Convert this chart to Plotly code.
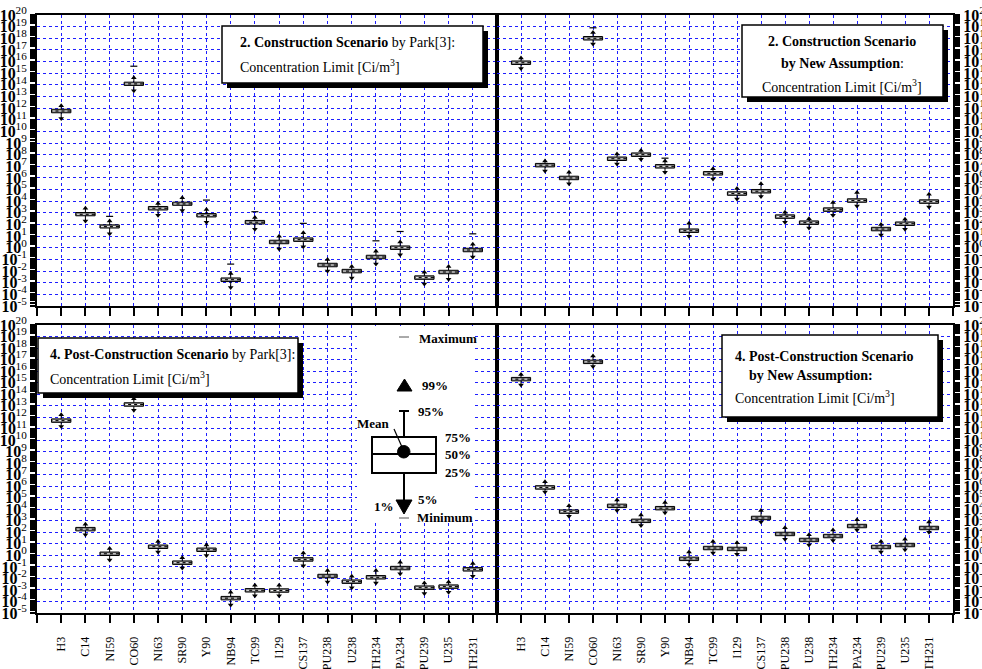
import plotly.graph_objects as go

# ---------------------------------------------------------------- data
CATS = ["H3", "C14", "NI59", "CO60", "NI63", "SR90", "Y90", "NB94", "TC99",
        "I129", "CS137", "PU238", "U238", "TH234", "PA234", "PU239", "U235", "TH231"]

# all statistics are log10 of the concentration limit [Ci/m3]
# 2. Construction scenario, Park[3]
TL_P01 = [11.1, 2.3, 1.2, 13.5, 2.8, 3.2, 2.2, -3.4, 1.6, -0.1, 0.1, -2.0, -2.6, -1.4, -0.6, -3.1, -2.7, -0.8]
TL_P25 = [11.6, 2.75, 1.7, 13.95, 3.25, 3.65, 2.65, -2.9, 2.05, 0.35, 0.55, -1.63, -2.15, -0.94, -0.14, -2.71, -2.23, -0.34]
TL_P50 = [11.75, 2.88, 1.82, 14.08, 3.4, 3.77, 2.79, -2.74, 2.2, 0.5, 0.7, -1.48, -2.0, -0.79, 0.01, -2.56, -2.08, -0.19]
TL_P75 = [11.9, 3.03, 1.97, 14.23, 3.55, 3.92, 2.94, -2.59, 2.35, 0.65, 0.85, -1.33, -1.85, -0.64, 0.16, -2.41, -1.93, -0.04]
TL_P99 = [12.2, 3.4, 2.3, 14.6, 3.8, 4.3, 3.3, -2.2, 2.6, 1.0, 1.3, -1.0, -1.6, -0.3, 0.5, -2.1, -1.6, 0.3]
TL_MAX = [None, None, 2.7, 15.6, None, None, 4.1, -1.4, 3.1, None, 2.1, None, None, 0.6, 1.4, None, None, 1.2]

# 2. Construction scenario, new assumption
TR_P01 = [15.4, 6.6, 5.5, 17.5, 7.2, 7.6, 6.5, 1.0, 5.9, 4.2, 4.4, 2.2, 1.7, 2.8, 3.6, 1.1, 1.6, 3.5]
TR_P25 = [15.75, 6.95, 5.85, 17.85, 7.5, 7.85, 6.85, 1.32, 6.25, 4.51, 4.71, 2.53, 2.01, 3.13, 3.91, 1.46, 1.92, 3.82]
TR_P50 = [15.9, 7.1, 6.0, 18.0, 7.65, 8.0, 7.0, 1.47, 6.4, 4.66, 4.86, 2.68, 2.16, 3.28, 4.06, 1.61, 2.07, 3.97]
TR_P75 = [16.05, 7.25, 6.15, 18.15, 7.8, 8.15, 7.15, 1.62, 6.55, 4.81, 5.01, 2.83, 2.31, 3.43, 4.21, 1.76, 2.22, 4.12]
TR_P99 = [16.3, 7.45, 6.5, 18.5, 8.05, 8.35, 7.45, 2.1, 6.8, 5.1, 5.5, 3.05, 2.5, 3.9, 4.75, 2.0, 2.45, 4.6]
TR_MAX = [None, None, None, 18.9, None, None, 7.7, None, None, None, None, None, None, None, None, None, None, None]

# 4. Post-construction scenario, Park[3]
BL_P01 = [11.2, 1.8, -0.4, 12.6, 0.3, -1.1, 0.0, -4.3, -3.5, -3.5, -0.9, -2.3, -2.8, -2.4, -1.6, -3.3, -3.2, -1.8]
BL_P25 = [11.55, 2.13, -0.01, 12.95, 0.6, -0.78, 0.34, -3.86, -3.18, -3.2, -0.5, -1.94, -2.43, -2.05, -1.25, -2.95, -2.86, -1.36]
BL_P50 = [11.7, 2.28, 0.14, 13.1, 0.75, -0.63, 0.49, -3.71, -3.03, -3.05, -0.35, -1.79, -2.28, -1.9, -1.1, -2.8, -2.71, -1.21]
BL_P75 = [11.85, 2.43, 0.29, 13.25, 0.9, -0.48, 0.64, -3.56, -2.88, -2.9, -0.2, -1.64, -2.13, -1.75, -0.95, -2.65, -2.56, -1.06]
BL_P99 = [12.2, 2.7, 0.6, 13.6, 1.2, -0.2, 0.9, -3.2, -2.6, -2.6, 0.2, -1.3, -1.8, -1.3, -0.6, -2.4, -2.3, -0.7]
BL_MAX = [None] * 18

# 4. Post-construction scenario, new assumption
BR_P01 = [14.8, 5.5, 3.4, 16.4, 3.9, 2.6, 3.7, -0.8, 0.2, 0.1, 2.9, 1.4, 0.9, 1.3, 2.2, 0.3, 0.5, 2.0]
BR_P25 = [15.15, 5.75, 3.65, 16.65, 4.15, 2.85, 3.95, -0.45, 0.49, 0.41, 3.1, 1.71, 1.19, 1.53, 2.4, 0.58, 0.75, 2.23]
BR_P50 = [15.3, 5.9, 3.8, 16.8, 4.3, 3.0, 4.1, -0.3, 0.64, 0.56, 3.25, 1.86, 1.34, 1.68, 2.55, 0.73, 0.9, 2.38]
BR_P75 = [15.45, 6.05, 3.95, 16.95, 4.45, 3.15, 4.25, -0.15, 0.79, 0.71, 3.4, 2.01, 1.49, 1.83, 2.7, 0.88, 1.05, 2.53]
BR_P99 = [15.7, 6.4, 4.3, 17.3, 4.8, 3.5, 4.6, 0.3, 1.2, 1.1, 3.9, 2.4, 1.8, 2.2, 3.1, 1.2, 1.4, 2.9]
BR_MAX = [None] * 18

EXPONENTS = list(range(-5, 21))

# ---------------------------------------------------------------- layout geometry
FIG_W, FIG_H = 982, 669
M_L, M_R, M_T, M_B = 37, 29, 15, 56
PW = FIG_W - M_L - M_R
PH = FIG_H - M_T - M_B


def px(x):
    return (x - M_L) / PW


def py(y):
    return (FIG_H - M_B - y) / PH


X_LEFT = [0, px(497)]
X_RIGHT = [px(497), 1]
Y_TOP = [py(306), 1]
Y_BOT = [0, py(325)]

SERIF = "Liberation Serif"
GRID = "rgb(30,30,255)"
NBSP = "\u00a0"

fig = go.Figure()

panels = [
    ("x", "y", TL_P01, TL_P25, TL_P50, TL_P75, TL_P99, TL_MAX),
    ("x2", "y2", TR_P01, TR_P25, TR_P50, TR_P75, TR_P99, TR_MAX),
    ("x3", "y3", BL_P01, BL_P25, BL_P50, BL_P75, BL_P99, BL_MAX),
    ("x4", "y4", BR_P01, BR_P25, BR_P50, BR_P75, BR_P99, BR_MAX),
]

pos = list(range(1, len(CATS) + 1))


def lin(v):
    return [None if e is None else 10.0 ** e for e in v]


for xa, ya, p01, p25, p50, p75, p99, pmax in panels:
    fig.add_trace(go.Box(
        x=pos, q1=lin(p25), median=lin(p50), q3=lin(p75),
        lowerfence=lin(p01), upperfence=lin(p99),
        width=0.8, whiskerwidth=0, boxpoints=False,
        fillcolor="#8c8c8c", line=dict(color="black", width=1),
        xaxis=xa, yaxis=ya, showlegend=False, hoverinfo="skip"))
    # dotted median stripe
    mx, my = [], []
    for i, m in zip(pos, p50):
        mx += [i - 0.36, i + 0.36, None]
        my += [10.0 ** m, 10.0 ** m, None]
    fig.add_trace(go.Scatter(x=mx, y=my, mode="lines",
                             line=dict(color="white", width=1, dash="dot"),
                             xaxis=xa, yaxis=ya, showlegend=False, hoverinfo="skip"))
    # 99 % and 1 % markers
    fig.add_trace(go.Scatter(x=pos, y=lin(p99), mode="markers",
                             marker=dict(symbol="triangle-up", size=5, color="black"),
                             xaxis=xa, yaxis=ya, showlegend=False, hoverinfo="skip"))
    fig.add_trace(go.Scatter(x=pos, y=lin(p01), mode="markers",
                             marker=dict(symbol="triangle-down", size=5, color="black"),
                             xaxis=xa, yaxis=ya, showlegend=False, hoverinfo="skip"))
    # maximum dashes
    kx = [i for i, v in zip(pos, pmax) if v is not None]
    ky = [10.0 ** v for v in pmax if v is not None]
    if kx:
        fig.add_trace(go.Scatter(x=kx, y=ky, mode="markers",
                                 marker=dict(symbol="line-ew", size=5,
                                             line=dict(color="black", width=1.2)),
                                 xaxis=xa, yaxis=ya, showlegend=False, hoverinfo="skip"))


def xaxis(domain, anchor, labels):
    return dict(domain=domain, anchor=anchor, range=[0, len(CATS) + 1],
                tickmode="array", tickvals=list(range(0, len(CATS) + 2)),
                ticktext=[""] + [c + NBSP * 3 for c in CATS] + [""],
                showticklabels=labels, tickangle=-90,
                tickfont=dict(family=SERIF, size=12, color="black"),
                ticks="outside", ticklen=8, tickwidth=1.5, tickcolor="black",
                showline=True, linewidth=2, linecolor="black", mirror=True,
                showgrid=True, gridcolor=GRID, gridwidth=1, griddash="dot",
                zeroline=False, fixedrange=True)


def yaxis(domain, anchor, side):
    return dict(domain=domain, anchor=anchor, type="log", range=[-5, 20],
                side=side, tickmode="array",
                tickvals=[10.0 ** k for k in EXPONENTS],
                ticktext=[f"<b>10</b><sup>{k}</sup>" for k in EXPONENTS],
                tickfont=dict(family=SERIF, size=16, color="black"),
                ticks="outside", ticklen=5, tickwidth=1.5, tickcolor="black",
                minor=dict(ticks="outside", ticklen=5, tickcolor="black",
                           tickwidth=1.5, dtick="D1", showgrid=False),
                showline=True, linewidth=2, linecolor="black", mirror=True,
                showgrid=True, gridcolor=GRID, gridwidth=1, griddash="dot",
                zeroline=False, fixedrange=True)


fig.update_layout(
    width=FIG_W, height=FIG_H,
    margin=dict(l=M_L, r=M_R, t=M_T, b=M_B, autoexpand=False),
    paper_bgcolor="white", plot_bgcolor="white",
    xaxis=xaxis(X_LEFT, "y", False),
    xaxis2=xaxis(X_RIGHT, "y2", False),
    xaxis3=xaxis(X_LEFT, "y3", True),
    xaxis4=xaxis(X_RIGHT, "y4", True),
    yaxis=yaxis(Y_TOP, "x", "left"),
    yaxis2=yaxis(Y_TOP, "x2", "right"),
    yaxis3=yaxis(Y_BOT, "x3", "left"),
    yaxis4=yaxis(Y_BOT, "x4", "right"),
    font=dict(family=SERIF, color="black"),
)

shapes = []
annotations = []


def rect(x0, y0, x1, y1, fill, line_w=0):
    shapes.append(dict(type="rect", xref="paper", yref="paper", layer="above",
                       x0=px(x0), x1=px(x1), y0=py(y1), y1=py(y0),
                       fillcolor=fill,
                       line=dict(color="black", width=line_w)))


def seg(x0, y0, x1, y1, w=1.5, color="black"):
    shapes.append(dict(type="line", xref="paper", yref="paper", layer="above",
                       x0=px(x0), x1=px(x1), y0=py(y0), y1=py(y1),
                       line=dict(color=color, width=w)))


def text(x, y, s, size=14, xanchor="left"):
    annotations.append(dict(xref="paper", yref="paper", x=px(x), y=py(y),
                            xanchor=xanchor, yanchor="middle", showarrow=False,
                            text=s, font=dict(family=SERIF, size=size, color="black")))


def title_box(x0, y0, x1, y1, lines):
    rect(x0 + 5, y0 + 5, x1 + 5, y1 + 5, "black")
    rect(x0, y0, x1, y1, "white", 1.5)
    for lx, ly, s, anchor in lines:
        text(lx, ly, s, 14, anchor)


UNIT = "Concentration Limit [Ci/m<sup>3</sup>]"

title_box(222, 26, 483, 83, [
    (238, 43, "<b>2. Construction Scenario</b> by Park[3]:", "left"),
    (238, 66, UNIT, "left"),
])
title_box(742, 25, 943, 97, [
    (842, 42, "<b>2. Construction Scenario</b>", "center"),
    (842, 64, "<b>by New Assumption</b>:", "center"),
    (842, 86, UNIT, "center"),
])
title_box(38, 338, 298, 393, [
    (48, 354, "<b>4. Post-Construction Scenario</b> by Park[3]:", "left"),
    (48, 378, UNIT, "left"),
])
title_box(722, 335, 938, 417, [
    (733, 356, "<b>4. Post-Construction Scenario</b>", "left"),
    (747, 376, "<b>by New Assumption:</b>", "left"),
    (733, 397, UNIT, "left"),
])

# key explaining the box symbols
rect(357, 326, 475, 522, "white")
seg(399, 337, 409, 337, 1, "#555")
shapes.append(dict(type="path", xref="paper", yref="paper", layer="above",
                   path=f"M {px(404.5)} {py(379)} L {px(412)} {py(391)} L {px(397)} {py(391)} Z",
                   fillcolor="black", line=dict(color="black", width=1)))
seg(399, 411, 409, 411, 2)
seg(404, 411, 404, 437, 2)
rect(372, 437, 436, 473, "white", 2)
seg(372, 454, 436, 454, 2)
seg(404, 473, 404, 500, 2)
shapes.append(dict(type="path", xref="paper", yref="paper", layer="above",
                   path=f"M {px(396)} {py(500)} L {px(412)} {py(500)} L {px(404)} {py(514)} Z",
                   fillcolor="black", line=dict(color="black", width=1)))
seg(399, 518, 409, 518, 1, "#555")
seg(394, 429, 402, 447, 1.2)
shapes.append(dict(type="circle", xref="paper", yref="paper", layer="above",
                   x0=px(397.5), x1=px(410), y0=py(458), y1=py(445.5),
                   fillcolor="black", line=dict(color="black", width=1)))

text(417, 338, "<b>Maximum</b>", 13)
text(420, 386, "<b>99%</b>", 13)
text(416, 411, "<b>95%</b>", 13)
text(392, 423, "<b>Mean</b>", 13, "right")
text(443, 437, "<b>75%</b>", 13)
text(443, 454, "<b>50%</b>", 13)
text(443, 472, "<b>25%</b>", 13)
text(416, 499, "<b>5%</b>", 13)
text(372, 506, "<b>1%</b>", 13)
text(415, 517, "<b>Minimum</b>", 13)

fig.update_layout(shapes=shapes, annotations=annotations)

fig.write_html("out.html")
